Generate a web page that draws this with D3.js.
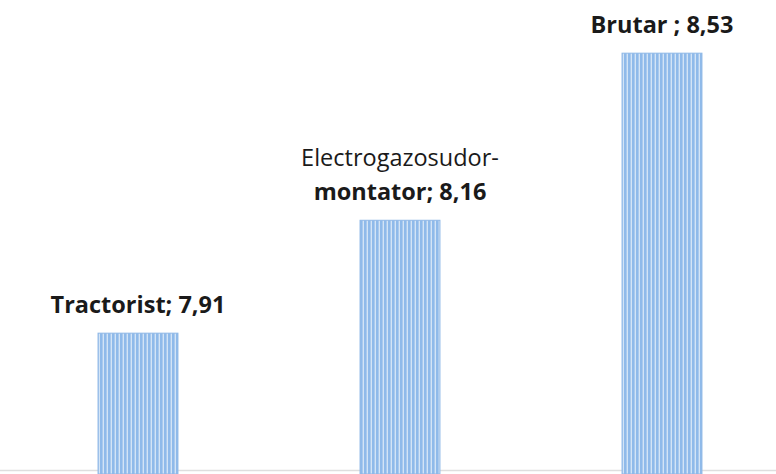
<!DOCTYPE html>
<html>
<head>
<meta charset="utf-8">
<script src="https://cdn.jsdelivr.net/npm/d3@7"></script>
<style>
  body { margin: 0; background: #fff; }
  #graf { width: 776px; height: 474px; }
  .eticheta { font-family: "Open Sans", Lato, sans-serif; font-size: 23.5px; fill: #1a1a1a; }
</style>
</head>
<body>
<div id="graf"></div>
<script>
// datele
meserii = ['Tractorist', 'Electrogazosudor-montator', 'Brutar']
valori = [7.91, 8.16, 8.53]
// randurile de text pentru etichete (ultimul rand e cel cu valoarea)
etichete = [
  ['Tractorist; 7,91'],
  ['Electrogazosudor-', 'montator; 8,16'],
  ['Brutar ; 8,53']
]

ancho_total = 776
alto_total = 474

svg = d3.select('#graf').append('svg')
        .attr('width', ancho_total)
        .attr('height', alto_total)

// model de dungi verticale pentru bare
defs = svg.append('defs')
pat = defs.append('pattern')
          .attr('id', 'dungi')
          .attr('patternUnits', 'userSpaceOnUse')
          .attr('width', 4)
          .attr('height', 4)
pat.append('rect').attr('width', 4).attr('height', 4).attr('fill', '#d3e4f6')
pat.append('rect').attr('width', 2.6).attr('height', 4).attr('fill', '#8fbaea')

x = d3.scaleBand()
      .domain(meserii)
      .range([7, 793])
      .paddingInner(0.695)
      .paddingOuter(0.3475)

// axa nu porneste de la zero
ymin = 7.607
y = d3.scaleLinear()
      .domain([ymin, ymin + 1])
      .range([470, 18.4])

date = meserii.map((m, i) => ({ meserie: m, valoare: valori[i], text: etichete[i] }))

// linia de baza
svg.append('line')
   .attr('x1', 0).attr('x2', ancho_total)
   .attr('y1', y(ymin) + 0.5).attr('y2', y(ymin) + 0.5)
   .attr('stroke', '#dedede')
   .attr('stroke-width', 1.5)

svg.selectAll('rect.bara')
   .data(date)
   .enter()
   .append('rect')
     .attr('class', 'bara')
     .attr('x', d => x(d.meserie))
     .attr('y', d => y(d.valoare))
     .attr('width', x.bandwidth())
     .attr('height', d => y(ymin) - y(d.valoare) + 4)
     .attr('fill', 'url(#dungi)')
     .attr('stroke', '#8fb8e6')
     .attr('stroke-width', 1)

// etichetele deasupra barelor
grupe = svg.selectAll('text.eticheta')
   .data(date)
   .enter()
   .append('text')
     .attr('class', 'eticheta')
     .attr('text-anchor', 'middle')

grupe.each(function(d) {
  n = d.text.length
  d3.select(this).selectAll('tspan')
    .data(d.text)
    .enter()
    .append('tspan')
      .attr('x', x(d.meserie) + x.bandwidth() / 2)
      .attr('y', (t, j) => y(d.valoare) - 20 - (n - 1 - j) * 34)
      .attr('font-weight', (t, j) => (j == n - 1) ? 700 : 400)
      .text(t => t)
})
</script>
</body>
</html>
